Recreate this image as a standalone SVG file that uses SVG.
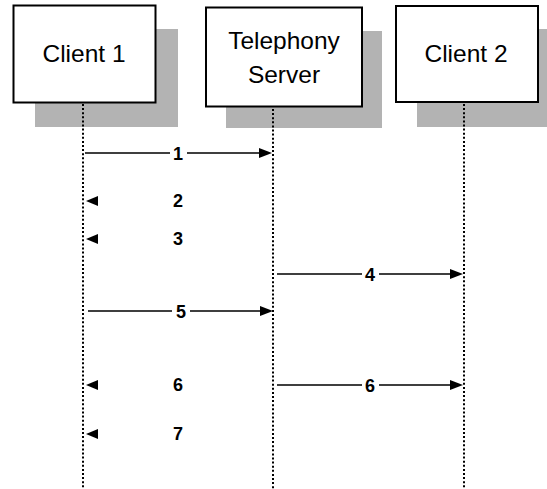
<svg xmlns="http://www.w3.org/2000/svg" width="547" height="489" viewBox="0 0 547 489">
  <style>
    .shadow { fill: #b3b3b3; }
    .box { fill: #ffffff; stroke: #000000; stroke-width: 2; }
    .name { font-family: "Liberation Sans", Arial, sans-serif; font-size: 24.5px; fill: #000000; text-anchor: middle; }
    .life { stroke: #000000; stroke-width: 2; stroke-dasharray: 2 2.1; fill: none; }
    .msg { stroke: #000000; stroke-width: 1.5; fill: none; }
    .head { fill: #000000; }
    .num { font-family: "Liberation Sans", Arial, sans-serif; font-size: 18px; font-weight: bold; fill: #000000; text-anchor: middle; }
  </style>
  <rect width="547" height="489" fill="#ffffff"/>

  <g id="client1">
    <rect class="shadow" x="35" y="29" width="143" height="98"/>
    <rect class="box" x="13.5" y="5.5" width="142" height="97"/>
    <text class="name" x="84" y="62">Client 1</text>
  </g>

  <g id="server">
    <rect class="shadow" x="226" y="31" width="156" height="97"/>
    <rect class="box" x="206" y="7.5" width="156" height="99"/>
    <text class="name" x="284" y="49">Telephony</text>
    <text class="name" x="284" y="83">Server</text>
  </g>

  <g id="client2">
    <rect class="shadow" x="417" y="29" width="140" height="98"/>
    <rect class="box" x="396" y="6" width="142" height="96"/>
    <text class="name" x="466" y="62">Client 2</text>
  </g>

  <g id="lifelines">
    <line class="life" x1="83" y1="104" x2="83" y2="489"/>
    <line class="life" x1="273" y1="109" x2="273" y2="489"/>
    <line class="life" x1="464" y1="104" x2="464" y2="489"/>
  </g>

  <g id="connectors">
    <!-- 1: client 1 to server -->
    <path class="msg" d="M85 153H170M187 153H261"/>
    <polygon class="head" points="272,153 259,148 259,158"/>
    <text class="num" x="178" y="159.5">1</text>

    <!-- 2 and 3: replies to client 1 -->
    <polygon class="head" points="86,201 98,196 98,206"/>
    <text class="num" x="178" y="207">2</text>
    <polygon class="head" points="86,239 98,234 98,244"/>
    <text class="num" x="178" y="245">3</text>

    <!-- 4: server to client 2 -->
    <path class="msg" d="M277 274H362M379 274H452"/>
    <polygon class="head" points="463,274 450,269 450,279"/>
    <text class="num" x="370" y="280.5">4</text>

    <!-- 5: client 1 to server -->
    <path class="msg" d="M88 311H172M190 311H262"/>
    <polygon class="head" points="273,311 260,306 260,316"/>
    <text class="num" x="181" y="317.5">5</text>

    <!-- 6: notifications to both clients -->
    <polygon class="head" points="86,385 98,380 98,390"/>
    <text class="num" x="178" y="391">6</text>
    <path class="msg" d="M277 385H362M379 385H452"/>
    <polygon class="head" points="463,385 450,380 450,390"/>
    <text class="num" x="370" y="391.5">6</text>

    <!-- 7: reply to client 1 -->
    <polygon class="head" points="86,434 98,429 98,439"/>
    <text class="num" x="178" y="440">7</text>
  </g>
</svg>
